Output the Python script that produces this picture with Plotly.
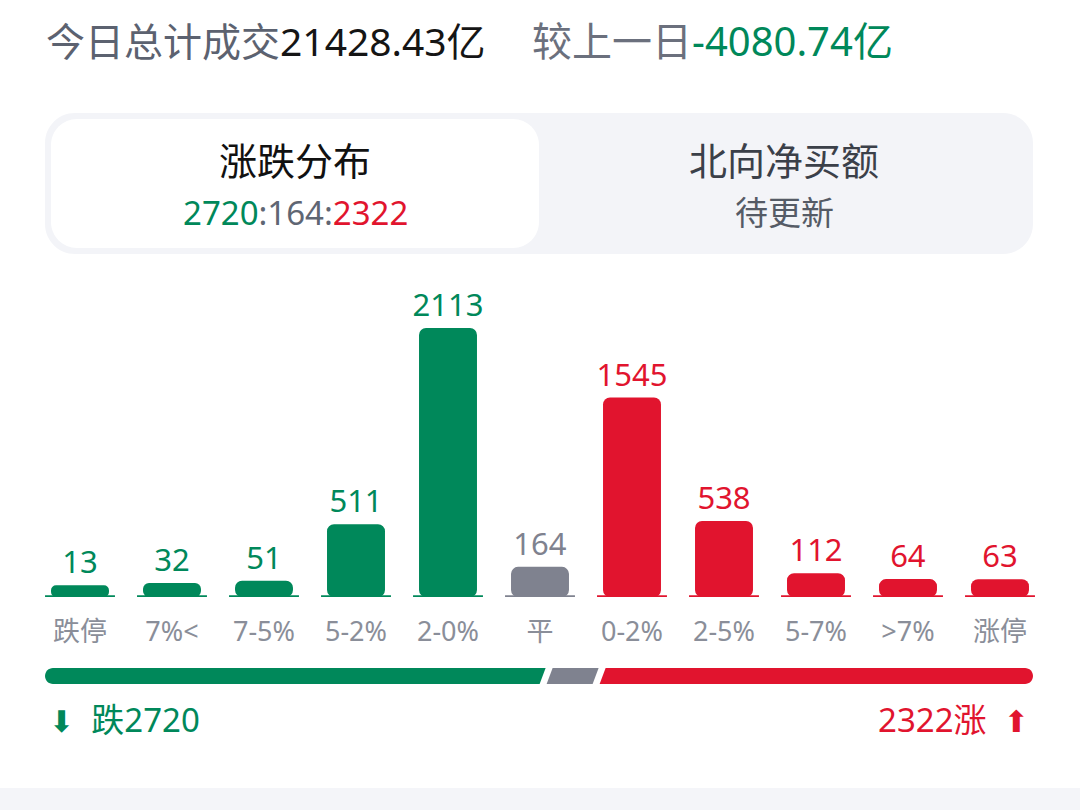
import plotly.graph_objects as go

# chart data
categories = ["跌停", "7%<", "7-5%", "5-2%", "2-0%", "平", "0-2%", "2-5%", "5-7%", ">7%", "涨停"]
counts = [13, 32, 51, 511, 2113, 164, 1545, 538, 112, 64, 63]
turnover = "21428.43亿"
turnover_change = "-4080.74亿"
north_status = "待更新"

W, H = 1080, 810
GREEN = "#00885a"
RED = "#e1142e"
GREY = "#7f828f"
LABEL_GREY = "#8a8e99"
FONT = "Noto Sans, Noto Sans CJK SC, sans-serif"

n_fall = 5
fall = sum(counts[:n_fall])
flat = counts[n_fall]
rise = sum(counts[n_fall + 1:])
colors = [GREEN] * n_fall + [GREY] + [RED] * (len(counts) - n_fall - 1)

# bars start a bit under zero so tiny counts still show a stub
base = -82
units_per_px = 8.157


def pt(px, py):
    return f"{px / W:.5f},{1 - py / H:.5f}"


def path(segs, close=True):
    out = " ".join(cmd + " " + " ".join(pt(*p) for p in pts) for cmd, pts in segs)
    return out + (" Z" if close else "")


def rrect(x0, y0, x1, y1, r):
    k = 0.5523 * r
    return path([
        ("M", [(x0 + r, y0)]),
        ("L", [(x1 - r, y0)]),
        ("C", [(x1 - r + k, y0), (x1, y0 + r - k), (x1, y0 + r)]),
        ("L", [(x1, y1 - r)]),
        ("C", [(x1, y1 - r + k), (x1 - r + k, y1), (x1 - r, y1)]),
        ("L", [(x0 + r, y1)]),
        ("C", [(x0 + r - k, y1), (x0, y1 - r + k), (x0, y1 - r)]),
        ("L", [(x0, y0 + r)]),
        ("C", [(x0, y0 + r - k), (x0 + r - k, y0), (x0 + r, y0)]),
    ])


fig = go.Figure()

fig.add_trace(go.Bar(
    x=list(range(len(categories))),
    y=[c - base for c in counts],  # length from the stub base up to the count
    base=base,
    width=0.63,
    marker=dict(color=colors, cornerradius=7, line=dict(width=0)),
    text=[str(c) for c in counts],
    textposition="outside",
    textfont=dict(size=31, color=colors, family=FONT),
    constraintext="none",
    cliponaxis=False,
    hoverinfo="skip",
))

shapes = []

# panel with the two tabs
shapes.append(dict(type="path", xref="paper", yref="paper", path=rrect(45, 113, 1033, 254, 30),
                   fillcolor="#f3f4f8", line=dict(width=0), layer="below"))
shapes.append(dict(type="path", xref="paper", yref="paper", path=rrect(51, 119, 539, 248, 26),
                   fillcolor="white", line=dict(width=0), layer="below"))

# base line under each bar
for i, c in enumerate(colors):
    shapes.append(dict(type="line", xref="x", yref="y", x0=i - 0.38, x1=i + 0.38, y0=base, y1=base,
                       line=dict(color=c, width=3.5)))

# split bar fall / flat / rise
L, R, T, B = 45, 1033, 668, 684
r, s, g = 8, 6, 7
k = 0.5523 * r
mid = (T + B) / 2
total = fall + flat + rise
grey_w = max((R - L) * flat / total, 46)
avail = (R - L) - grey_w - 2 * g
xg = L + avail * fall / (fall + rise)
xr = xg + g + grey_w + g
shapes.append(dict(type="path", xref="paper", yref="paper", fillcolor=GREEN, line=dict(width=0), path=path([
    ("M", [(L + r, T)]), ("L", [(xg, T)]), ("L", [(xg - s, B)]), ("L", [(L + r, B)]),
    ("C", [(L + r - k, B), (L, mid + k), (L, mid)]),
    ("C", [(L, mid - k), (L + r - k, T), (L + r, T)]),
])))
shapes.append(dict(type="path", xref="paper", yref="paper", fillcolor=GREY, line=dict(width=0), path=path([
    ("M", [(xg + g, T)]), ("L", [(xg + g + grey_w, T)]), ("L", [(xg + g + grey_w - s, B)]), ("L", [(xg + g - s, B)]),
])))
shapes.append(dict(type="path", xref="paper", yref="paper", fillcolor=RED, line=dict(width=0), path=path([
    ("M", [(xr, T)]), ("L", [(R - r, T)]),
    ("C", [(R - r + k, T), (R, mid - k), (R, mid)]),
    ("C", [(R, mid + k), (R - r + k, B), (R - r, B)]),
    ("L", [(xr - s, B)]),
])))

# footer strip
shapes.append(dict(type="rect", xref="paper", yref="paper", x0=0, x1=1, y0=0, y1=1 - 788 / H,
                   fillcolor="#f4f5f9", line=dict(width=0), layer="below"))


def note(text, px, py, size, color, anchor="left"):
    return dict(text=text, x=px / W, y=1 - py / H, xref="paper", yref="paper", xanchor=anchor,
                yanchor="middle", showarrow=False, font=dict(size=size, color=color, family=FONT))


ARROW = "<span style='font-family:DejaVu Sans;font-size:30px'>{}</span>"
annotations = [
    note(f"今日总计成交<span style='color:#151515'>{turnover}</span>", 44, 40, 39, "#5c6270"),
    note(f"较上一日<span style='color:{GREEN}'>{turnover_change}</span>", 530, 40, 40, "#6b707d"),
    note("涨跌分布", 295, 160, 38, "#111111", "center"),
    note(f"<span style='color:{GREEN}'>{fall}</span>:{flat}:<span style='color:{RED}'>{rise}</span>",
         295, 212, 33, "#5f6673", "center"),
    note("北向净买额", 784, 160, 38, "#3b4049", "center"),
    note(north_status, 784, 212, 33, "#555b66", "center"),
    note(ARROW.format("⬇") + f"  跌{fall}", 47, 719, 33, GREEN),
    note(f"{rise}涨  " + ARROW.format("⬆"), 1031, 719, 33, RED, "right"),
]

y_bottom = 597
y_top = 250
fig.update_layout(
    width=W, height=H,
    margin=dict(l=0, r=0, t=0, b=0),
    paper_bgcolor="white", plot_bgcolor="white",
    showlegend=False,
    font=dict(family=FONT),
    xaxis=dict(
        domain=[0, 1],
        range=[(0 - 80) / 92, (W - 80) / 92],
        tickvals=list(range(len(categories))), ticktext=categories,
        tickfont=dict(size=27, color=LABEL_GREY, family=FONT),
        ticks="", ticklabelstandoff=16,
        showgrid=False, zeroline=False, showline=False, fixedrange=True,
    ),
    yaxis=dict(
        domain=[1 - y_bottom / H, 1 - y_top / H],
        range=[base, base + (y_bottom - y_top) * units_per_px],
        visible=False, showgrid=False, zeroline=False, fixedrange=True,
    ),
    shapes=shapes,
    annotations=annotations,
)

fig.write_html("out.html", config={"displayModeBar": False},
               post_script="document.body.style.margin='0';")
